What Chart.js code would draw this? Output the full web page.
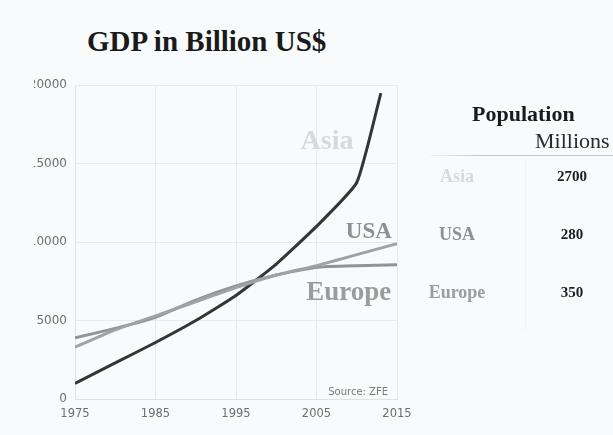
<!DOCTYPE html>
<html>
<head>
<meta charset="utf-8">
<script src="https://cdn.jsdelivr.net/npm/chart.js@4"></script>
<style>
  html, body { margin: 0; padding: 0; }
  body { width: 613px; height: 435px; background: #f8fafc; position: relative; overflow: hidden; }
  #title { position: absolute; left: 87px; top: 25px; font: bold 29px "Liberation Serif", "Times New Roman", serif; color: #1a1a1a; white-space: nowrap; }
  #wrap { position: absolute; left: 34px; top: 70px; width: 400px; height: 355px; }
  #pop { position: absolute; left: 0; top: 0; width: 613px; height: 435px; pointer-events: none; }
  .t { position: absolute; white-space: nowrap; font-family: "Liberation Serif", "Times New Roman", serif; }
  #popHead { left: 472px; top: 101px; font-weight: bold; font-size: 22px; color: #1a1a1a; }
  #popUnit { left: 535px; top: 128px; font-size: 22px; color: #2a2a2a; }
  #rule { position: absolute; left: 430px; top: 155px; width: 183px; height: 1px; background: linear-gradient(to right, #f0f2f4, #c8c8c8 25%, #c8c8c8); }
  #vrule { position: absolute; left: 525px; top: 160px; width: 1px; height: 170px; background: #eef0f2; }
  .lab { width: 110px; margin-left: -55px; text-align: center; font-weight: bold; font-size: 18px; }
  .val { width: 60px; margin-left: -30px; text-align: center; font-weight: bold; font-size: 15px; color: #1e1e1e; }
</style>
</head>
<body>
<div id="title">GDP in Billion US$</div>
<div id="wrap"><canvas id="c" width="400" height="355"></canvas></div>
<div id="pop">
  <div class="t" id="popHead">Population</div>
  <div class="t" id="popUnit">Millions</div>
  <div id="rule"></div>
  <div id="vrule"></div>
</div>
<script>
// GDP in billion US$, sampled every five years
const usaEuropeYears = [1975, 1980, 1985, 1990, 1995, 2000, 2005, 2010, 2015];
const usaGdp    = [3300, 4400, 5300, 6200, 7100, 7900, 8500, 9200, 9900];
const europeGdp = [3900, 4500, 5200, 6300, 7200, 7900, 8400, 8500, 8550];
const asiaYears = [1975, 1980, 1985, 1990, 1995, 2000, 2005, 2010, 2013];
const asiaGdp   = [1000, 2300, 3600, 5000, 6600, 8600, 11000, 13800, 19500];

// axis ticks
const yearTicks = [1975, 1985, 1995, 2005, 2015];
const gdpTicks  = [0, 5000, 10000, 15000, 20000];

// population table (millions)
const regions    = ['Asia', 'USA', 'Europe'];
const population = [2700, 280, 350];

const regionColors = { Asia: '#353535', USA: '#a2a2a2', Europe: '#939393' };
const tagColors    = { Asia: '#d9d9d9', USA: '#8f8f8f', Europe: '#9c9c9c' };

// population table rows
const rowTops = [167, 225, 283];
const pop = document.getElementById('pop');
regions.forEach((r, i) => {
  const l = document.createElement('div');
  l.className = 't lab';
  l.style.left = '457px';
  l.style.top = (rowTops[i] - 1) + 'px';
  l.style.color = tagColors[r];
  l.textContent = r;
  pop.appendChild(l);
  const v = document.createElement('div');
  v.className = 't val';
  v.style.left = '572px';
  v.style.top = (rowTops[i] + 1) + 'px';
  v.textContent = String(population[i]);
  pop.appendChild(v);
});

const pts = (xs, ys) => xs.map((x, i) => ({ x, y: ys[i] }));

// region names written next to their curves, anchored in data space
const curveTags = [
  { text: 'Asia',   year: 2006.3, gdp: 16400, size: 28 },
  { text: 'USA',    year: 2011.5, gdp: 10650, size: 23 },
  { text: 'Europe', year: 2009.0, gdp: 6750,  size: 27 }
];

const tagPlugin = {
  id: 'curveTags',
  afterDatasetsDraw(chart) {
    const { ctx, scales: { x, y }, chartArea } = chart;
    ctx.save();
    ctx.textAlign = 'center';
    ctx.textBaseline = 'middle';
    curveTags.forEach(t => {
      ctx.font = 'bold ' + t.size + 'px "Liberation Serif", "Times New Roman", serif';
      ctx.fillStyle = tagColors[t.text];
      ctx.fillText(t.text, x.getPixelForValue(t.year), y.getPixelForValue(t.gdp));
    });
    ctx.font = '10px "DejaVu Sans", sans-serif';
    ctx.fillStyle = '#7a7a7a';
    ctx.textAlign = 'right';
    ctx.fillText('Source: ZFE', chartArea.right - 9, chartArea.bottom - 7);
    ctx.restore();
  }
};

new Chart(document.getElementById('c'), {
  type: 'line',
  data: {
    datasets: [
      { label: 'USA', data: pts(usaEuropeYears, usaGdp), borderColor: regionColors.USA, borderWidth: 3, pointRadius: 0, tension: 0.15 },
      { label: 'Europe', data: pts(usaEuropeYears, europeGdp), borderColor: regionColors.Europe, borderWidth: 3, pointRadius: 0, tension: 0.15 },
      { label: 'Asia', data: pts(asiaYears, asiaGdp), borderColor: regionColors.Asia, borderWidth: 3, pointRadius: 0, tension: 0.15 }
    ]
  },
  options: {
    responsive: false,
    animation: false,
    layout: { padding: { top: 14, right: 37, bottom: 0, left: 0 } },
    plugins: { legend: { display: false }, tooltip: { enabled: false } },
    scales: {
      x: {
        type: 'linear',
        min: 1975, max: 2015,
        afterBuildTicks: s => { s.ticks = yearTicks.map(v => ({ value: v })); },
        afterFit: s => { s.height = 26; },
        grid: { color: '#e8eaec', drawTicks: false },
        border: { color: '#dfe1e3' },
        ticks: { padding: 8, color: '#6e6e6e', font: { family: '"DejaVu Sans", sans-serif', size: 11.5 }, callback: v => String(v) }
      },
      y: {
        min: 0, max: 20000,
        afterBuildTicks: s => { s.ticks = gdpTicks.map(v => ({ value: v })); },
        afterFit: s => { s.width = 41; },
        grid: { color: '#e8eaec', drawTicks: false },
        border: { color: '#dfe1e3' },
        ticks: { padding: 8, color: '#6e6e6e', font: { family: '"DejaVu Sans", sans-serif', size: 12 }, callback: v => String(v) }
      }
    }
  },
  plugins: [tagPlugin]
});
</script>
</body>
</html>
